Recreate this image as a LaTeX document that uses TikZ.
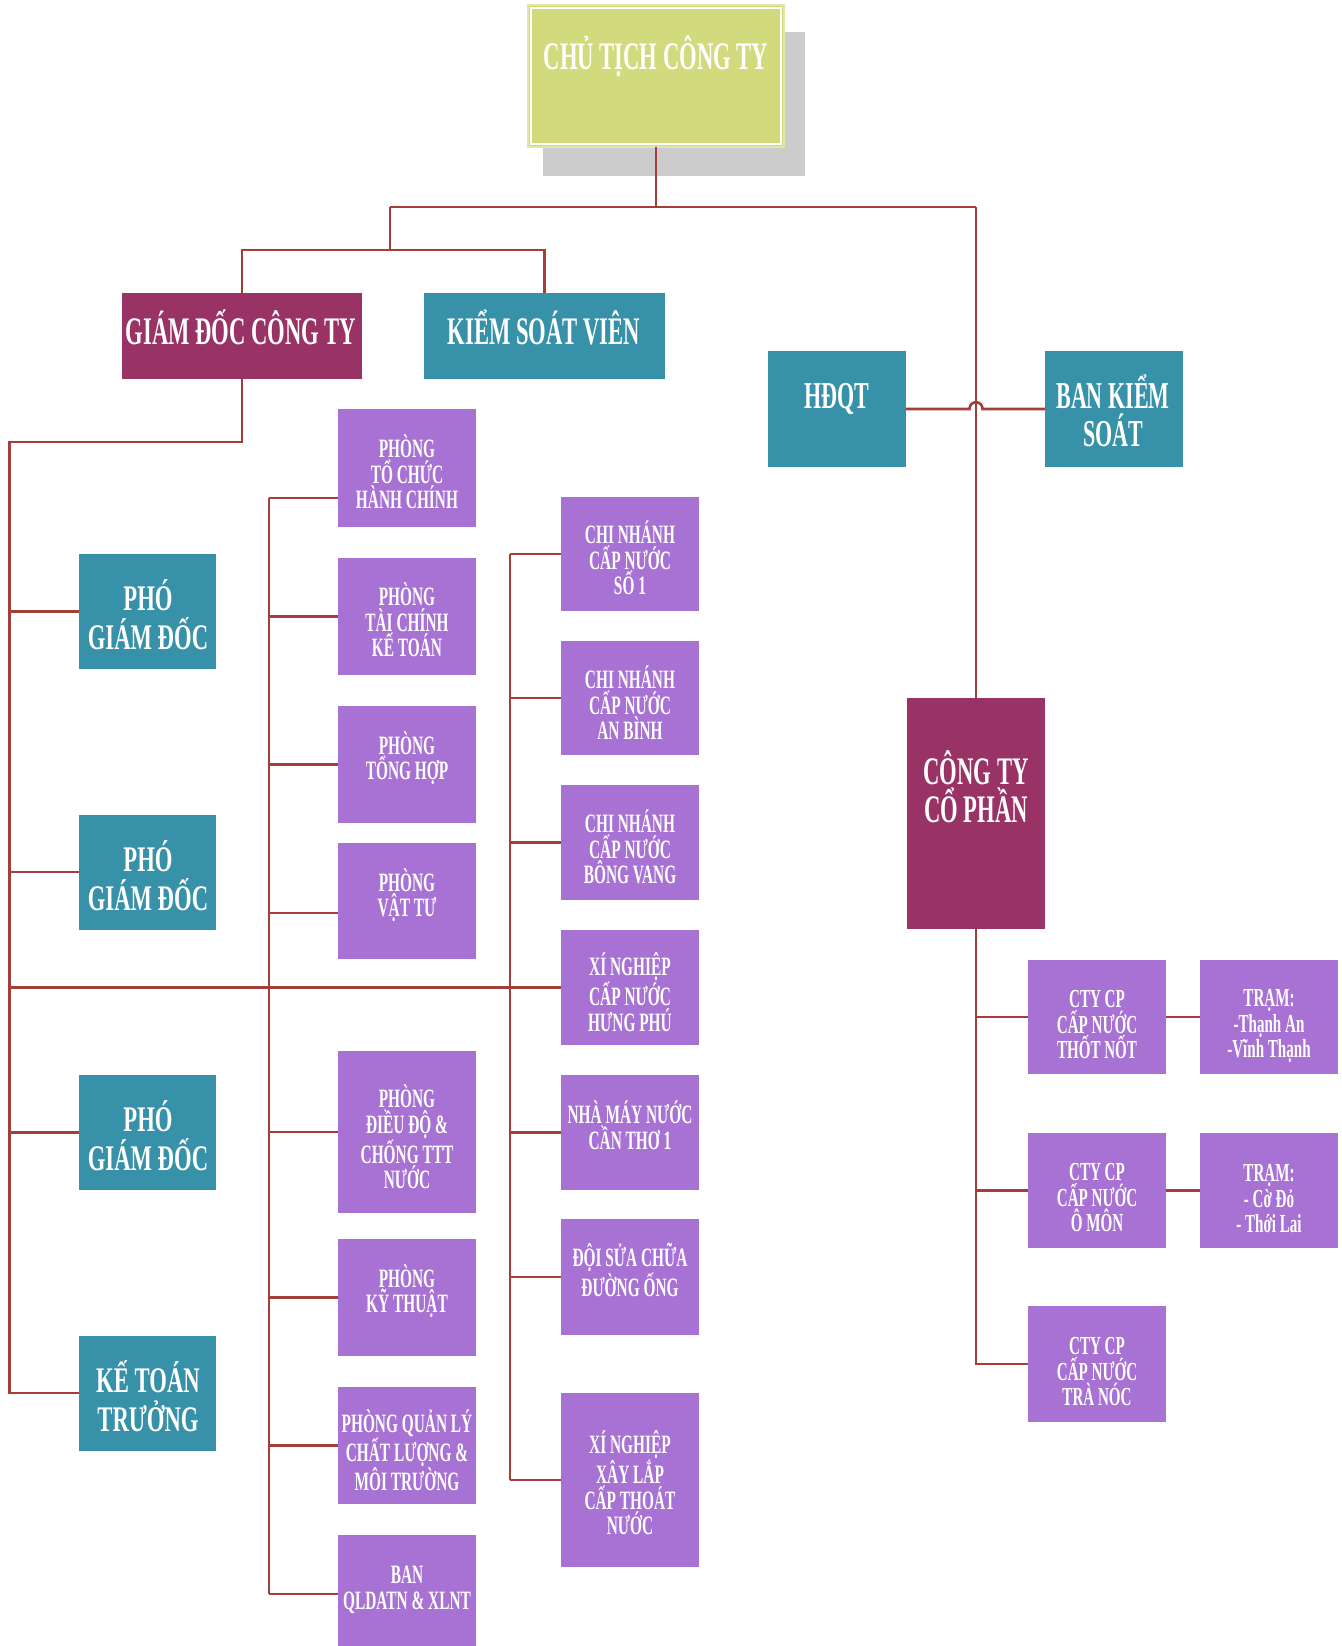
\documentclass[tikz,border=0pt]{standalone}
\usepackage{fontspec}
\setmainfont{Liberation Serif}
\newfontfamily\nar{Liberation Serif}[FakeStretch=0.58]
\newfontfamily\narw{Liberation Serif}[FakeStretch=0.63]
\usetikzlibrary{calc}
\definecolor{clime}{RGB}{210,218,126}
\definecolor{climeL}{RGB}{226,231,165}
\definecolor{cteal}{RGB}{55,145,168}
\definecolor{cmaroon}{RGB}{153,51,102}
\definecolor{cpur}{RGB}{168,114,212}
\definecolor{cline}{RGB}{163,63,56}
\definecolor{cshadow}{RGB}{204,204,204}
\begin{document}
\begin{tikzpicture}[x=1pt,y=-1pt,
  box/.style={rectangle, inner sep=0pt, outer sep=0pt, draw=none},
  tealbox/.style={box, fill=cteal},
  purbox/.style={box, fill=cpur, minimum width=138},
  marbox/.style={box, fill=cmaroon},
  conn/.style={draw=cline, line width=2.6pt},
  txt/.style={text=white, align=center, inner sep=0pt},
  big/.style={txt, font=\nar\bfseries\fontsize{39}{38}\selectfont},
  mid/.style={txt, font=\narw\bfseries\fontsize{36}{39}\selectfont},
  small/.style={txt, font=\nar\bfseries\fontsize{26.5}{25.5}\selectfont},
  smallb/.style={txt, font=\nar\bfseries\fontsize{26}{25.5}\selectfont},
  bigb/.style={txt, font=\nar\bfseries\fontsize{39}{38}\selectfont},
]
\useasboundingbox (0,0) rectangle (1341,1646);

% top
\fill[cshadow] (543,32) rectangle (805,176);
\node[box, fill=clime, draw=climeL, line width=2pt, minimum width=256, minimum height=142] (chair) at (656,76) {};
\draw[white, line width=1.5pt] ($(chair.north west)+(3,3)$) rectangle ($(chair.south east)+(-3,-3)$);
\node[big] (chairT) at (656,56) {CHỦ TỊCH CÔNG TY};

\node[marbox, minimum width=240, minimum height=86] (gd) at (242,336) {};
\node[big] (gdT) at (241,327) {GIÁM ĐỐC CÔNG TY};
\node[tealbox, minimum width=241, minimum height=86] (ksv) at (544.5,336) {};
\node[big] (ksvT) at (544,327) {KIỂM SOÁT VIÊN};

\node[tealbox, minimum width=138, minimum height=116] (hdqt) at (837,409) {};
\node[big, font=\nar\bfseries\fontsize{38}{38}\selectfont] (hdqtT) at (837,399) {HĐQT};
\node[tealbox, minimum width=138, minimum height=116] (bks) at (1114,409) {};
\node[big, font=\nar\bfseries\fontsize{38}{38}\selectfont] (bksT) at (1113,411) {BAN KIỂM\\SOÁT};

% left column
\node[tealbox, minimum width=137, minimum height=115] (pho1) at (147.5,611.5) {};
\node[mid] (pho1T) at (148,615) {PHÓ\\GIÁM ĐỐC};
\node[tealbox, minimum width=137, minimum height=115] (pho2) at (147.5,872) {};
\node[mid] (pho2T) at (148,876) {PHÓ\\GIÁM ĐỐC};
\node[tealbox, minimum width=137, minimum height=115] (pho3) at (147.5,1132.5) {};
\node[mid] (pho3T) at (148,1136) {PHÓ\\GIÁM ĐỐC};
\node[tealbox, minimum width=137, minimum height=115] (kt) at (147.5,1393) {};
\node[mid] (ktT) at (148,1396) {KẾ TOÁN\\TRƯỞNG};

% phong column
\node[purbox, minimum height=118] (p1) at (407,468) {};
\node[small] (p1T) at (407,472) {PHÒNG\\TỔ CHỨC\\HÀNH CHÍNH};
\node[purbox, minimum height=117] (p2) at (407,616.5) {};
\node[small] (p2T) at (407,620) {PHÒNG\\TÀI CHÍNH\\KẾ TOÁN};
\node[purbox, minimum height=117] (p3) at (407,764.5) {};
\node[small] (p3T) at (407,758) {PHÒNG\\TỔNG HỢP};
\node[purbox, minimum height=116] (p4) at (407,901) {};
\node[small] (p4T) at (407,895) {PHÒNG\\VẬT TƯ};
\node[purbox, minimum height=162] (p5) at (407,1132) {};
\node[small] (p5T) at (407,1137) {PHÒNG\\ĐIỀU ĐỘ \&\\CHỐNG TTT\\NƯỚC};
\node[purbox, minimum height=117] (p6) at (407,1297.5) {};
\node[small] (p6T) at (407,1291) {PHÒNG\\KỸ THUẬT};
\node[purbox, minimum height=117] (p7) at (407,1445.5) {};
\node[small] (p7T) at (407,1450) {PHÒNG QUẢN LÝ\\CHẤT LƯỢNG \&\\MÔI TRƯỜNG};
\node[purbox, minimum height=118] (p8) at (407,1594) {};
\node[small] (p8T) at (407,1590) {BAN\\QLDATN \& XLNT};

% chi nhanh column
\node[purbox, minimum height=114] (c1) at (630,554) {};
\node[small] (c1T) at (630,558) {CHI NHÁNH\\CẤP NƯỚC\\SỐ 1};
\node[purbox, minimum height=114] (c2) at (630,698) {};
\node[small] (c2T) at (630,703) {CHI NHÁNH\\CẤP NƯỚC\\AN BÌNH};
\node[purbox, minimum height=115] (c3) at (630,842.5) {};
\node[small] (c3T) at (630,847) {CHI NHÁNH\\CẤP NƯỚC\\BÔNG VANG};
\node[purbox, minimum height=115] (c4) at (630,987.5) {};
\node[small] (c4T) at (630,992) {XÍ NGHIỆP\\CẤP NƯỚC\\HƯNG PHÚ};
\node[purbox, minimum height=115] (c5) at (630,1132.5) {};
\node[small] (c5T) at (630,1125) {NHÀ MÁY NƯỚC\\CẦN THƠ 1};
\node[purbox, minimum height=116] (c6) at (630,1277) {};
\node[small] (c6T) at (630,1270) {ĐỘI SỬA CHỮA\\ĐƯỜNG ỐNG};
\node[purbox, minimum height=174] (c7) at (630,1480) {};
\node[small] (c7T) at (630,1483) {XÍ NGHIỆP\\XÂY LẮP\\CẤP THOÁT\\NƯỚC};

% right side
\node[marbox, minimum width=138, minimum height=231] (cty) at (976,813.5) {};
\node[bigb] (ctyT) at (976,787) {CÔNG TY\\CỔ PHẦN};
\node[purbox, minimum height=114] (r1) at (1097,1017) {};
\node[smallb] (r1T) at (1097,1025) {CTY CP\\CẤP NƯỚC\\THỐT NỐT};
\node[purbox, minimum height=115] (r2) at (1097,1190.5) {};
\node[smallb] (r2T) at (1097,1198) {CTY CP\\CẤP NƯỚC\\Ô MÔN};
\node[purbox, minimum height=116] (r3) at (1097,1364) {};
\node[smallb] (r3T) at (1097,1372) {CTY CP\\CẤP NƯỚC\\TRÀ NÓC};
\node[purbox, minimum height=114] (t1) at (1269,1017) {};
\node[smallb] (t1T) at (1269,1026) {TRẠM:\\-Thạnh An\\-Vĩnh Thạnh};
\node[purbox, minimum height=115] (t2) at (1269,1190.5) {};
\node[smallb] (t2T) at (1269,1199) {TRẠM:\\- Cờ Đỏ\\- Thới Lai};

% connectors
\coordinate (jTop) at (656,207);
\coordinate (jL) at (390,207);
\coordinate (jR) at (976,207);
\coordinate (jM) at (390,250);
\coordinate (hopA) at (969.5,409);
\coordinate (hopB) at (982.5,409);
\draw[conn] (chair.south) -- (jTop);
\draw[conn] (jL) -- (jR);
\draw[conn] (jL) -- (jM);
\draw[conn] (gd.north) |- (jM) -| (ksv.north);
\draw[conn] (jR) -- (cty.north);
\draw[conn] (hdqt.east) -- (hopA) .. controls ($(hopA)+(0,-9)$) and ($(hopB)+(0,-9)$) .. (hopB) -- (bks.west);

\coordinate (lTop) at (9.5,442);
\draw[conn] (gd.south) |- (lTop) -- (lTop |- kt.west) -- (kt.west);
\draw[conn] (lTop |- pho1.west) -- (pho1.west);
\draw[conn] (lTop |- pho2.west) -- (pho2.west);
\draw[conn] (lTop |- pho3.west) -- (pho3.west);
\draw[conn] (lTop |- c4.west) -- (c4.west);

\coordinate (pv) at (269,498);
\coordinate (pv4) at (269,913);
\draw[conn] (pv) -- (pv |- p8.west);
\draw[conn] (pv) -- (p1.west |- pv);
\draw[conn] (pv |- p2.west) -- (p2.west);
\draw[conn] (pv |- p3.west) -- (p3.west);
\draw[conn] (pv4) -- (p4.west |- pv4);
\draw[conn] (pv |- p5.west) -- (p5.west);
\draw[conn] (pv |- p6.west) -- (p6.west);
\draw[conn] (pv |- p7.west) -- (p7.west);
\draw[conn] (pv |- p8.west) -- (p8.west);

\coordinate (cv) at (510,554);
\draw[conn] (cv |- c1.west) -- (cv |- c7.west);
\draw[conn] (cv |- c1.west) -- (c1.west);
\draw[conn] (cv |- c2.west) -- (c2.west);
\draw[conn] (cv |- c3.west) -- (c3.west);
\draw[conn] (cv |- c5.west) -- (c5.west);
\draw[conn] (cv |- c6.west) -- (c6.west);
\draw[conn] (cv |- c7.west) -- (c7.west);

\draw[conn] (cty.south) -- (cty.south |- r3.west) -- (r3.west);
\draw[conn] (cty.south |- r1.west) -- (r1.west);
\draw[conn] (cty.south |- r2.west) -- (r2.west);
\draw[conn] (r1.east) -- (t1.west);
\draw[conn] (r2.east) -- (t2.west);
\end{tikzpicture}
\end{document}
